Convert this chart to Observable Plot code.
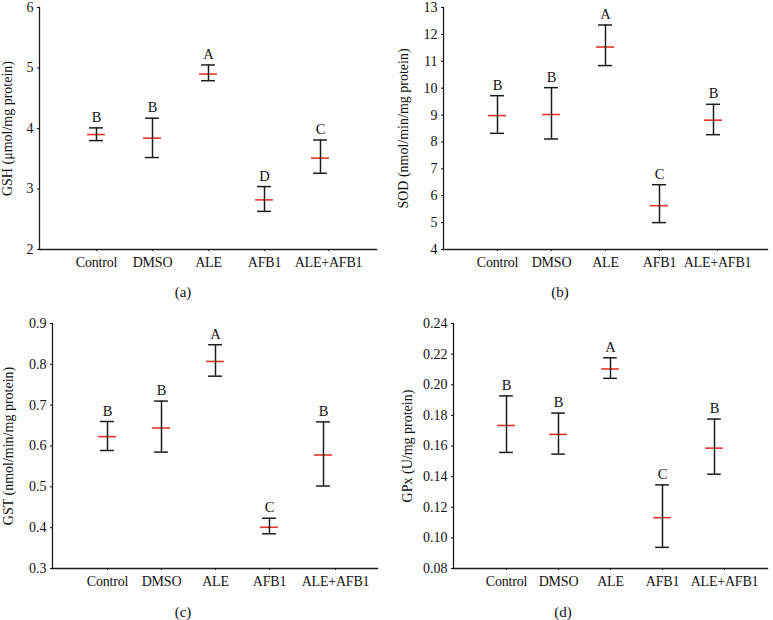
<!DOCTYPE html>
<html>
<head>
<meta charset="utf-8">
<script src="https://cdn.jsdelivr.net/npm/d3@7"></script>
<script src="https://cdn.jsdelivr.net/npm/@observablehq/plot@0.6"></script>
<style>
  html, body { margin: 0; padding: 0; background: #fff; }
  #root { position: relative; width: 773px; height: 620px; background: #fff; font-family: "Liberation Serif", "DejaVu Serif", serif; }
  .panel { position: absolute; }
  .cap { position: absolute; font-size: 15px; color: #111; transform: translateX(-50%); white-space: nowrap; }
  g[aria-label="x-axis tick label"] text { letter-spacing: -0.2px; }
</style>
</head>
<body>
<div id="root"></div>
<script>
const groups = ["Control", "DMSO", "ALE", "AFB1", "ALE+AFB1"];

// (a) GSH
const gshMean = [3.90, 3.84, 4.90, 2.82, 3.51];
const gshLow = [3.80, 3.52, 4.79, 2.63, 3.26];
const gshHigh = [4.01, 4.17, 5.05, 3.04, 3.81];
const gshLetters = ["B", "B", "A", "D", "C"];
const gshTicks = [2, 3, 4, 5, 6];

// (b) SOD
const sodMean = [8.98, 9.02, 11.53, 5.63, 8.81];
const sodLow = [8.32, 8.11, 10.84, 5.00, 8.27];
const sodHigh = [9.72, 10.02, 12.35, 6.41, 9.40];
const sodLetters = ["B", "B", "A", "C", "B"];
const sodTicks = [4, 5, 6, 7, 8, 9, 10, 11, 12, 13];

// (c) GST
const gstMean = [0.623, 0.644, 0.807, 0.401, 0.578];
const gstLow = [0.589, 0.585, 0.771, 0.385, 0.502];
const gstHigh = [0.660, 0.710, 0.848, 0.423, 0.659];
const gstLetters = ["B", "B", "A", "C", "B"];
const gstTicks = [0.3, 0.4, 0.5, 0.6, 0.7, 0.8, 0.9];

// (d) GPx
const gpxMean = [0.1734, 0.1676, 0.2103, 0.1132, 0.1586];
const gpxLow = [0.1558, 0.1547, 0.2042, 0.0938, 0.1416];
const gpxHigh = [0.1927, 0.1815, 0.2176, 0.1346, 0.1776];
const gpxLetters = ["B", "B", "A", "C", "B"];
const gpxTicks = [0.08, 0.10, 0.12, 0.14, 0.16, 0.18, 0.20, 0.22, 0.24];

const root = document.getElementById("root");
const FONT = '"Liberation Serif", "DejaVu Serif", serif';

function panel(cfg) {
  const data = groups.map((g, i) => ({g, mean: cfg.mean[i], lo: cfg.low[i], hi: cfg.high[i], letter: cfg.letters[i]}));
  const ink = "#1c1c1c";
  const bw = (cfg.width - cfg.ml - cfg.mr) / 6;
  const redInset = (bw - 18) / 2;
  const capInset = (bw - 14) / 2;
  const chart = Plot.plot({
    width: cfg.width,
    height: cfg.height,
    marginLeft: cfg.ml,
    marginRight: cfg.mr,
    marginTop: cfg.mt,
    marginBottom: cfg.mb,
    style: {fontFamily: FONT, fontSize: "14px", overflow: "visible", background: "transparent", color: "#111"},
    x: {type: "band", domain: groups, paddingInner: 0, paddingOuter: 0.5},
    y: {domain: [cfg.ticks[0], cfg.ticks[cfg.ticks.length - 1]]},
    marks: [
      Plot.axisY({ticks: cfg.ticks, tickFormat: cfg.fmt, tickSize: 2, tickPadding: 4, label: cfg.label, labelAnchor: "center", labelArrow: "none", labelOffset: cfg.lo, fontSize: 14, fontFamily: FONT}),
      Plot.axisX({ticks: groups.slice(0, 4), tickSize: 2, tickPadding: 6, label: null, fontSize: 14, fontFamily: FONT}),
      Plot.axisX({ticks: groups.slice(4), tickSize: 2, tickPadding: 6, label: null, fontSize: 14, fontFamily: FONT, dx: cfg.lastDx}),
      Plot.frame({anchor: "left", stroke: ink, strokeWidth: 1.3}),
      Plot.frame({anchor: "bottom", stroke: ink, strokeWidth: 1.3}),
      Plot.tickY(data, {x: "g", y: "mean", stroke: "#e5332a", strokeWidth: 1.6, insetLeft: redInset, insetRight: redInset}),
      Plot.ruleX(data, {x: "g", y1: "lo", y2: "hi", stroke: ink, strokeWidth: 1.5}),
      Plot.tickY(data, {x: "g", y: "hi", stroke: ink, strokeWidth: 1.5, insetLeft: capInset, insetRight: capInset}),
      Plot.tickY(data, {x: "g", y: "lo", stroke: ink, strokeWidth: 1.5, insetLeft: capInset, insetRight: capInset}),
      Plot.text(data, {x: "g", y: "hi", text: "letter", dy: -6, lineAnchor: "bottom", fontSize: 14.5, fontFamily: FONT, fill: "#111"})
    ]
  });
  const div = document.createElement("div");
  div.className = "panel";
  div.style.left = cfg.left + "px";
  div.style.top = cfg.top + "px";
  div.appendChild(chart);
  root.appendChild(div);
  const cap = document.createElement("div");
  cap.className = "cap";
  cap.textContent = cfg.caption;
  cap.style.left = cfg.capX + "px";
  cap.style.top = cfg.capY + "px";
  root.appendChild(cap);
}

panel({left: 0, top: 2, width: 386, height: 278, ml: 39, mr: 10, mt: 5, mb: 31, lo: 37, lastDx: 8,
  mean: gshMean, low: gshLow, high: gshHigh, letters: gshLetters, ticks: gshTicks, fmt: d3.format("d"),
  label: "GSH (μmol/mg protein)", caption: "(a)", capX: 183, capY: 284});
panel({left: 390, top: 2, width: 383, height: 278, ml: 53, mr: 6, mt: 5, mb: 31, lo: 45, lastDx: 4,
  mean: sodMean, low: sodLow, high: sodHigh, letters: sodLetters, ticks: sodTicks, fmt: d3.format("d"),
  label: "SOD (nmol/min/mg protein)", caption: "(b)", capX: 560, capY: 284});
panel({left: 0, top: 300, width: 386, height: 300, ml: 52, mr: 9, mt: 23, mb: 32, lo: 49, lastDx: 12,
  mean: gstMean, low: gstLow, high: gstHigh, letters: gstLetters, ticks: gstTicks, fmt: d3.format(".1f"),
  label: "GST (nmol/min/mg protein)", caption: "(c)", capX: 183, capY: 604});
panel({left: 390, top: 300, width: 383, height: 300, ml: 63, mr: 6, mt: 23, mb: 32, lo: 51, lastDx: 10,
  mean: gpxMean, low: gpxLow, high: gpxHigh, letters: gpxLetters, ticks: gpxTicks, fmt: d3.format(".2f"),
  label: "GPx (U/mg protein)", caption: "(d)", capX: 563, capY: 604});
</script>
</body>
</html>
